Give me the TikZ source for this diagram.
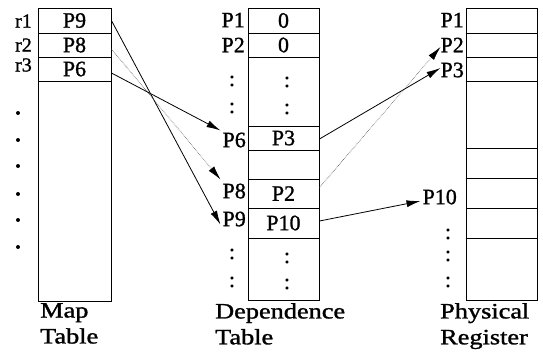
\documentclass[tikz,border=0pt]{standalone}
\usepackage{fontspec}
\usepackage{graphicx}
\setmainfont{Liberation Serif}[BoldFont=Liberation Serif, BoldFeatures={FakeBold=1.2}]
\usetikzlibrary{arrows.meta,calc}
\begin{document}
\begin{tikzpicture}[x=1bp,y=-1bp,
  every node/.style={inner sep=0pt, font=\fontsize{22}{26}\selectfont\bfseries},
  cell/.style={draw, line width=0.9bp, minimum width=#1},
  mapcell/.style={cell=73bp},
  depcell/.style={cell=71bp},
  regcell/.style={cell=71bp},
  rlabel/.style={anchor=east, font=\fontsize{20}{22}\selectfont\bfseries},
  plabel/.style={anchor=east},
  colon/.style={},
  caption/.style={anchor=north west, align=left},
  link/.style={line width=0.8bp, -{Latex[length=14bp,width=7bp]}},
  dottedlink/.style={densely dotted, line width=0.6bp, black!70,
                     -{Latex[length=14bp,width=7bp,color=black]}}]
\useasboundingbox (0,0) rectangle (543,356);

% Map table
\node[mapcell, minimum height=25bp]  (m1) at (74.5,20.5) {P9};
\node[mapcell, minimum height=24bp]  (m2) at (74.5,45)   {P8};
\node[mapcell, minimum height=24bp]  (m3) at (74.5,69)   {P6};
\node[mapcell, minimum height=220bp] (m4) at (74.5,191)  {};
\node[rlabel] (r1) at (32,21) {r1};
\node[rlabel] (r2) at (32,45) {r2};
\node[rlabel] (r3) at (32,65) {r3};
\foreach \yy in {113,140,166,194,220,247}
  \fill (18,\yy) circle (2bp);
\node[caption] (mapcap) at (40,303) {\scalebox{1.2}[1]{Map}\\\scalebox{1.2}[1]{Table}};

% Dependence table
\node[depcell, minimum height=25bp] (d1)  at (283.5,20.5)  {0};
\node[depcell, minimum height=24bp] (d2)  at (283.5,45)    {0};
\node[depcell, minimum height=69bp] (d3)  at (283.5,91.5)  {};
\node[depcell, minimum height=24bp] (d6)  at (283.5,138)   {P3};
\node[depcell, minimum height=29bp] (d7)  at (283.5,164.5) {};
\node[depcell, minimum height=29bp] (d8)  at (283.5,193.5) {P2};
\node[depcell, minimum height=30bp] (d9)  at (283.5,223)   {P10};
\node[depcell, minimum height=62bp] (d10) at (283.5,269)   {};
\node[plabel] (ld1) at (245,20)  {P1};
\node[plabel] (ld2) at (245,45)  {P2};
\node[plabel] (ld6) at (246,140) {P6};
\node[plabel] (ld8) at (246,191) {P8};
\node[plabel] (ld9) at (246,219) {P9};
\node[colon] (c1) at (232,81)  {:};
\node[colon] (c2) at (232,108) {:};
\node[colon] (c3) at (287,82)  {:};
\node[colon] (c4) at (287,109) {:};
\node[colon] (c5) at (232,254) {:};
\node[colon] (c6) at (232,282) {:};
\node[colon] (c7) at (287,258) {:};
\node[colon] (c8) at (287,284) {:};
\node[caption] (depcap) at (215,303) {\scalebox{1.2}[1]{Dependence}\\\scalebox{1.2}[1]{Table}};

% Physical register file
\node[regcell, minimum height=25bp] (p1) at (501.5,20.5)  {};
\node[regcell, minimum height=24bp] (p2) at (501.5,45)    {};
\node[regcell, minimum height=24bp] (p3) at (501.5,69)    {};
\node[regcell, minimum height=67bp] (p4) at (501.5,114.5) {};
\node[regcell, minimum height=30bp] (p5) at (501.5,163)   {};
\node[regcell, minimum height=30bp] (p6) at (501.5,193)   {};
\node[regcell, minimum height=30bp] (p7) at (501.5,223)   {};
\node[regcell, minimum height=62bp] (p8) at (501.5,269)   {};
\node[plabel] (lp1)  at (464,20)  {P1};
\node[plabel] (lp2)  at (464,45)  {P2};
\node[plabel] (lp3)  at (464,70)  {P3};
\node[plabel] (lp10) at (457,197) {P10};
\node[colon] (c9)  at (448,234) {:};
\node[colon] (c10) at (448,256) {:};
\node[colon] (c11) at (448,282) {:};
\node[caption] (regcap) at (440,303) {\scalebox{1.2}[1]{Physical}\\\scalebox{1.2}[1]{Register}};

% Map table -> dependence table
\draw[link] (m1.east) -- ([shift={(-2,-2)}]ld9.south west);
\draw[dottedlink] ([shift={(0,4)}]m2.east) -- ([shift={(-2,-4)}]ld8.north west);
\draw[link] ([shift={(0,4)}]m3.east) -- ([shift={(-2,-2)}]ld6.north west);

% Dependence table -> physical registers
\draw[link] ([shift={(0,1)}]d6.east) -- ([shift={(0,-2)}]lp3.west);
\draw[dottedlink] ([shift={(0,-6)}]d8.east) -- ([shift={(0,2)}]lp2.west);
\draw[link] ([shift={(0,-2)}]d9.east) -- ([shift={(-2,4)}]lp10.west);
\end{tikzpicture}
\end{document}
